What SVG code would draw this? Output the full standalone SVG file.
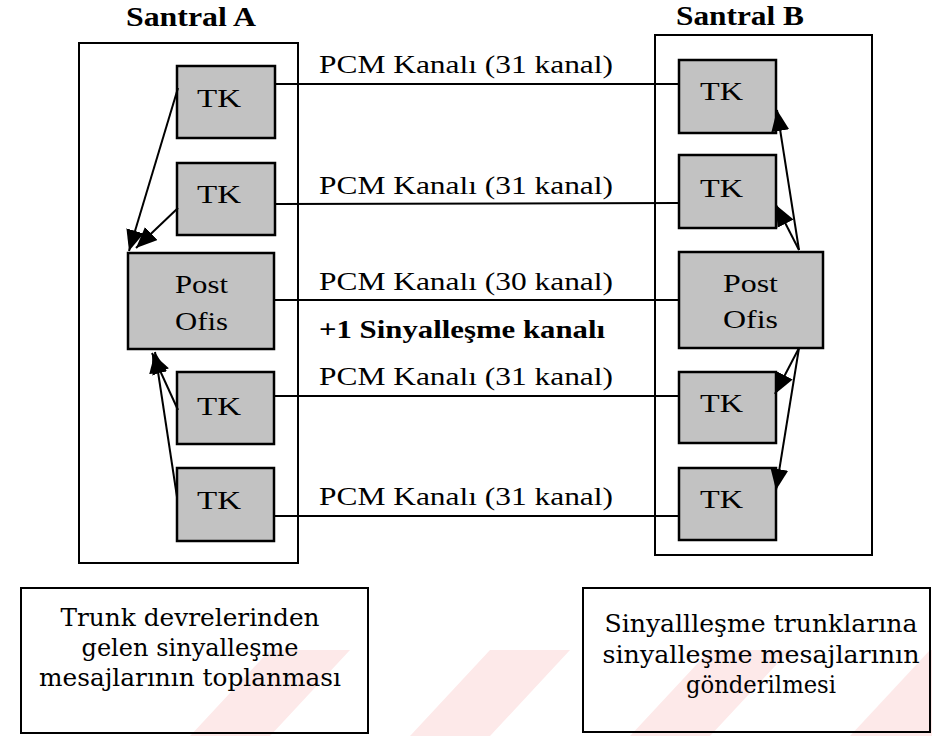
<svg xmlns="http://www.w3.org/2000/svg" width="932" height="736" viewBox="0 0 932 736">
<defs>
<marker id="ah" markerUnits="userSpaceOnUse" markerWidth="24" markerHeight="20" refX="21" refY="9" orient="auto">
<path d="M0,0 L21,9 L0,18 Z" fill="#000"/>
</marker>
<style>
.frame{fill:none;stroke:#000;stroke-width:2}
.blk{fill:#c2c2c2;stroke:#000;stroke-width:2.5}
.t{font-family:"Liberation Serif","Times New Roman",serif;font-size:25px;fill:#000}
.b{font-family:"Liberation Serif","Times New Roman",serif;font-size:27px;font-weight:bold;fill:#000}
.s{font-family:"DejaVu Serif","Liberation Serif",serif;font-size:25px;fill:#000}
.ln{stroke:#000;stroke-width:2;fill:none}
.ar{stroke:#000;stroke-width:2;fill:none;marker-end:url(#ah)}
</style>
</defs>
<rect width="932" height="736" fill="#fff"/>
<g id="watermark" fill="#fde9e9">
<polygon points="190,736 270,650 350,650 270,736"/>
<polygon points="410,736 490,650 570,650 490,736"/>
<polygon points="630,736 710,650 790,650 710,736"/>
<polygon points="850,736 930,650 932,650 932,736"/>
</g>
<g id="santralA">
<rect class="frame" x="79" y="43" width="219" height="520"/>
<text class="b" x="126" y="26" textLength="130" lengthAdjust="spacingAndGlyphs">Santral A</text>
</g>
<g id="santralB">
<rect class="frame" x="655" y="35" width="217" height="520"/>
<text class="b" x="676" y="25" textLength="128" lengthAdjust="spacingAndGlyphs">Santral B</text>
</g>
<g id="tkA1"><rect class="blk" x="177" y="66" width="98" height="72"/><text class="t" x="197" y="107" textLength="44" lengthAdjust="spacingAndGlyphs">TK</text></g>
<g id="tkA2"><rect class="blk" x="177" y="163" width="98" height="72"/><text class="t" x="197" y="203" textLength="44" lengthAdjust="spacingAndGlyphs">TK</text></g>
<g id="postA"><rect class="blk" x="128" y="253" width="146" height="96"/><text class="t" x="175" y="293" textLength="53" lengthAdjust="spacingAndGlyphs">Post</text><text class="t" x="175" y="330" textLength="53" lengthAdjust="spacingAndGlyphs">Ofis</text></g>
<g id="tkA3"><rect class="blk" x="177" y="372" width="97" height="72"/><text class="t" x="197" y="415" textLength="44" lengthAdjust="spacingAndGlyphs">TK</text></g>
<g id="tkA4"><rect class="blk" x="177" y="468" width="97" height="73"/><text class="t" x="197" y="509" textLength="44" lengthAdjust="spacingAndGlyphs">TK</text></g>
<g id="tkB1"><rect class="blk" x="679" y="60" width="97" height="73"/><text class="t" x="700" y="100" textLength="43" lengthAdjust="spacingAndGlyphs">TK</text></g>
<g id="tkB2"><rect class="blk" x="679" y="155" width="97" height="73"/><text class="t" x="700" y="197" textLength="43" lengthAdjust="spacingAndGlyphs">TK</text></g>
<g id="postB"><rect class="blk" x="679" y="252" width="144" height="96"/><text class="t" x="723" y="292" textLength="55" lengthAdjust="spacingAndGlyphs">Post</text><text class="t" x="723" y="328" textLength="55" lengthAdjust="spacingAndGlyphs">Ofis</text></g>
<g id="tkB3"><rect class="blk" x="679" y="372" width="97" height="71"/><text class="t" x="700" y="412" textLength="43" lengthAdjust="spacingAndGlyphs">TK</text></g>
<g id="tkB4"><rect class="blk" x="679" y="468" width="97" height="72"/><text class="t" x="700" y="508" textLength="43" lengthAdjust="spacingAndGlyphs">TK</text></g>
<g id="connectors">
<line class="ln" x1="275" y1="84" x2="679" y2="84"/>
<line class="ln" x1="275" y1="204" x2="679" y2="203"/>
<line class="ln" x1="274" y1="300" x2="679" y2="300"/>
<line class="ln" x1="274" y1="396" x2="679" y2="396"/>
<line class="ln" x1="274" y1="516" x2="679" y2="516"/>
<line class="ar" x1="178" y1="88" x2="129" y2="251"/>
<line class="ar" x1="178" y1="208" x2="136" y2="248"/>
<line class="ar" x1="178" y1="410" x2="152" y2="353"/>
<line class="ar" x1="177" y1="497" x2="155" y2="352"/>
<line class="ar" x1="799" y1="250" x2="777" y2="110"/>
<line class="ar" x1="799" y1="250" x2="776" y2="205"/>
<line class="ar" x1="799" y1="348" x2="775" y2="394"/>
<line class="ar" x1="799" y1="348" x2="776" y2="490"/>
</g>
<g id="labels">
<text class="t" x="319" y="73" textLength="294" lengthAdjust="spacingAndGlyphs">PCM Kanalı (31 kanal)</text>
<text class="t" x="319" y="194" textLength="294" lengthAdjust="spacingAndGlyphs">PCM Kanalı (31 kanal)</text>
<text class="t" x="319" y="290" textLength="294" lengthAdjust="spacingAndGlyphs">PCM Kanalı (30 kanal)</text>
<text class="t" x="319" y="338" textLength="286" lengthAdjust="spacingAndGlyphs" font-weight="bold">+1 Sinyalleşme kanalı</text>
<text class="t" x="319" y="385" textLength="294" lengthAdjust="spacingAndGlyphs">PCM Kanalı (31 kanal)</text>
<text class="t" x="319" y="505" textLength="294" lengthAdjust="spacingAndGlyphs">PCM Kanalı (31 kanal)</text>
</g>
<g id="noteA">
<rect class="frame" x="21" y="588" width="347" height="145"/>
<text class="s" x="190" y="626" text-anchor="middle" textLength="259" lengthAdjust="spacingAndGlyphs">Trunk devrelerinden</text>
<text class="s" x="190" y="656" text-anchor="middle" textLength="217" lengthAdjust="spacingAndGlyphs">gelen sinyalleşme</text>
<text class="s" x="190" y="686" text-anchor="middle" textLength="302" lengthAdjust="spacingAndGlyphs">mesajlarının toplanması</text>
</g>
<g id="noteB">
<rect class="frame" x="583" y="588" width="347" height="144"/>
<text class="s" x="761" y="632" text-anchor="middle" textLength="313" lengthAdjust="spacingAndGlyphs">Sinyallleşme trunklarına</text>
<text class="s" x="761" y="663" text-anchor="middle" textLength="317" lengthAdjust="spacingAndGlyphs">sinyalleşme mesajlarının</text>
<text class="s" x="761" y="693" text-anchor="middle" textLength="150" lengthAdjust="spacingAndGlyphs">gönderilmesi</text>
</g>
</svg>
